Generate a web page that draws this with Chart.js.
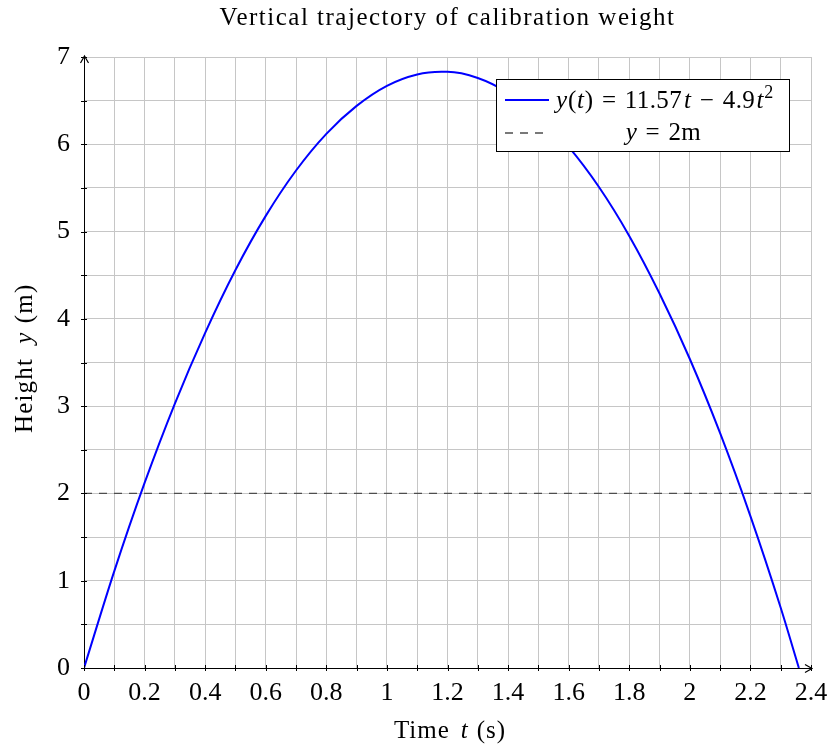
<!DOCTYPE html>
<html>
<head>
<meta charset="utf-8">
<script src="https://cdn.jsdelivr.net/npm/chart.js@4.4.1/dist/chart.umd.min.js"></script>
<style>
  html, body { margin: 0; padding: 0; background: #fff; }
  canvas { display: block; }
</style>
</head>
<body>
<canvas id="chart" width="830" height="747"></canvas>
<script>
// values
const timeValues = [0, 0.1, 0.2, 0.3, 0.4, 0.5, 0.6, 0.7, 0.8, 0.9, 1.0, 1.1, 1.18, 1.2, 1.3, 1.4, 1.5, 1.6, 1.7, 1.8, 1.9, 2.0, 2.1, 2.2, 2.3, 2.36];
const heightValues = [0, 1.11, 2.12, 3.03, 3.84, 4.56, 5.18, 5.70, 6.12, 6.44, 6.67, 6.80, 6.83, 6.83, 6.76, 6.59, 6.33, 5.97, 5.51, 4.95, 4.29, 3.54, 2.69, 1.74, 0.69, 0.0];
const refTimes = [0, 2.4];
const refHeights = [2, 2];

const chartTitle = 'Vertical trajectory of calibration weight';
const xTitle = [{ t: 'Time' }, { t: 't', i: true, gap: true }, { t: '(s)' }];
const yTitle = [{ t: 'Height' }, { t: 'y', i: true, gap: true }, { t: '(m)' }];
const curveLabel = [{ t: 'y', i: true }, { t: '(' }, { t: 't', i: true }, { t: ')' }, { t: '=', op: true },
    { t: '11.57' }, { t: 't', i: true }, { t: '\u2212', op: true }, { t: '4.9' }, { t: 't', i: true }, { t: '2', sup: true }];
const refLabel = [{ t: 'y', i: true }, { t: '=', op: true }, { t: '2m' }];

const FONT = '"Liberation Serif", "Times New Roman", serif';
const BLUE = '#0000ff';
const DASH = '#4d4d4d';
const GRID = '#c6c6c6';

// draws text made of roman / italic / superscript pieces
function setFont(ctx, p, size) {
    const s = p.sup ? Math.round(size * 0.7) : size;
    ctx.font = (p.i ? 'italic ' : '') + s + 'px ' + FONT;
}

function padOf(p) {
    return p.op ? 8 : (p.gap ? 7 : 0);
}

function partWidth(ctx, p, size, spacing) {
    setFont(ctx, p, size);
    return ctx.measureText(p.t).width + 2 * padOf(p) + spacing * p.t.length;
}

function drawRich(ctx, parts, x, y, size, align, spacing) {
    spacing = spacing || 0;
    let w = 0;
    parts.forEach(p => { w += partWidth(ctx, p, size, spacing); });
    let cx = align === 'center' ? x - w / 2 : x;
    ctx.textAlign = 'left';
    ctx.textBaseline = 'alphabetic';
    ctx.fillStyle = '#000';
    ctx.letterSpacing = spacing + 'px';
    parts.forEach(p => {
        setFont(ctx, p, size);
        ctx.fillText(p.t, cx + padOf(p), p.sup ? y - size * 0.42 : y);
        cx += partWidth(ctx, p, size, spacing);
    });
    ctx.letterSpacing = '0px';
}

const decorations = {
    id: 'decorations',
    afterDraw(chart) {
        const ctx = chart.ctx;
        const area = chart.chartArea;
        const xs = chart.scales.x;
        const ys = chart.scales.y;
        ctx.save();

        // axis tick marks
        ctx.strokeStyle = '#000';
        ctx.lineWidth = 1;
        ctx.beginPath();
        xs.ticks.forEach(t => {
            const px = Math.round(xs.getPixelForValue(t.value)) + 0.5;
            ctx.moveTo(px, area.bottom - 3);
            ctx.lineTo(px, area.bottom + 3);
        });
        ys.ticks.forEach(t => {
            const py = Math.round(ys.getPixelForValue(t.value)) + 0.5;
            ctx.moveTo(area.left - 3, py);
            ctx.lineTo(area.left + 3, py);
        });
        ctx.stroke();

        // arrow heads
        ctx.beginPath();
        ctx.lineWidth = 1.2;
        ctx.moveTo(area.right - 6, area.bottom - 3.5);
        ctx.lineTo(area.right + 1, area.bottom + 0.5);
        ctx.lineTo(area.right - 6, area.bottom + 4.5);
        ctx.moveTo(area.left - 3.5, area.top + 6);
        ctx.lineTo(area.left + 0.5, area.top - 1);
        ctx.lineTo(area.left + 4.5, area.top + 6);
        ctx.stroke();

        // title
        const midX = (area.left + area.right) / 2;
        drawRich(ctx, [{ t: chartTitle }], midX, 25, 25, 'center', 1.5);

        // axis titles
        drawRich(ctx, xTitle, midX, 738, 25, 'center', 1);
        ctx.save();
        ctx.translate(32, (area.top + area.bottom) / 2);
        ctx.rotate(-Math.PI / 2);
        drawRich(ctx, yTitle, 0, 0, 25, 'center', 1.2);
        ctx.restore();

        // legend
        const bx = 496.5, by = 79.5, bw = 293, bh = 72;
        ctx.fillStyle = '#fff';
        ctx.fillRect(bx, by, bw, bh);
        ctx.strokeStyle = '#000';
        ctx.lineWidth = 1;
        ctx.strokeRect(bx, by, bw, bh);

        ctx.strokeStyle = BLUE;
        ctx.lineWidth = 2;
        ctx.beginPath();
        ctx.moveTo(505, 100);
        ctx.lineTo(549, 100);
        ctx.stroke();
        drawRich(ctx, curveLabel, 556, 108, 25, 'left', 0.4);

        ctx.strokeStyle = DASH;
        ctx.lineWidth = 1.3;
        ctx.setLineDash([8, 7]);
        ctx.beginPath();
        ctx.moveTo(505, 133);
        ctx.lineTo(546, 133);
        ctx.stroke();
        ctx.setLineDash([]);
        drawRich(ctx, refLabel, 663, 140, 25, 'center', 0.4);

        ctx.restore();
    }
};

const fmt = v => {
    const r = Math.round(v * 10);
    if (r % 2 !== 0) return '';
    return String(Number((r / 10).toFixed(1)));
};

new Chart(document.getElementById('chart'), {
    type: 'line',
    data: {
        datasets: [{
            label: 'curve',
            data: timeValues.map((t, i) => ({ x: t, y: heightValues[i] })),
            borderColor: BLUE,
            borderWidth: 2,
            pointRadius: 0,
            cubicInterpolationMode: 'monotone',
            fill: false
        }, {
            label: 'ref',
            data: refTimes.map((t, i) => ({ x: t, y: refHeights[i] })),
            borderColor: DASH,
            borderWidth: 1.3,
            borderDash: [8, 7],
            pointRadius: 0,
            fill: false
        }]
    },
    options: {
        responsive: false,
        animation: false,
        devicePixelRatio: 1,
        layout: { autoPadding: false, padding: { left: 0, right: 19, top: 57, bottom: 0 } },
        plugins: {
            legend: { display: false },
            title: { display: false },
            tooltip: { enabled: false }
        },
        scales: {
            x: {
                type: 'linear',
                min: 0,
                max: 2.4,
                grid: { color: GRID, lineWidth: 1, drawTicks: false },
                border: { display: true, color: '#000', width: 1 },
                ticks: {
                    stepSize: 0.1,
                    autoSkip: false,
                    maxRotation: 0,
                    padding: 10,
                    color: '#000',
                    font: { family: FONT, size: 26 },
                    callback: fmt
                },
                afterFit: s => {
                    s.height = 79;
                    s.paddingLeft = 0;
                    s.paddingRight = 0;
                }
            },
            y: {
                min: 0,
                max: 7,
                grid: { color: GRID, lineWidth: 1, drawTicks: false },
                border: { display: true, color: '#000', width: 1 },
                ticks: {
                    stepSize: 0.5,
                    autoSkip: false,
                    padding: 14,
                    color: '#000',
                    font: { family: FONT, size: 26 },
                    callback: v => (Math.round(v * 2) % 2 === 0 ? String(Math.round(v)) : '')
                },
                afterFit: s => {
                    s.width = 84;
                    s.paddingTop = 0;
                    s.paddingBottom = 0;
                }
            }
        }
    },
    plugins: [decorations]
});
</script>
</body>
</html>
